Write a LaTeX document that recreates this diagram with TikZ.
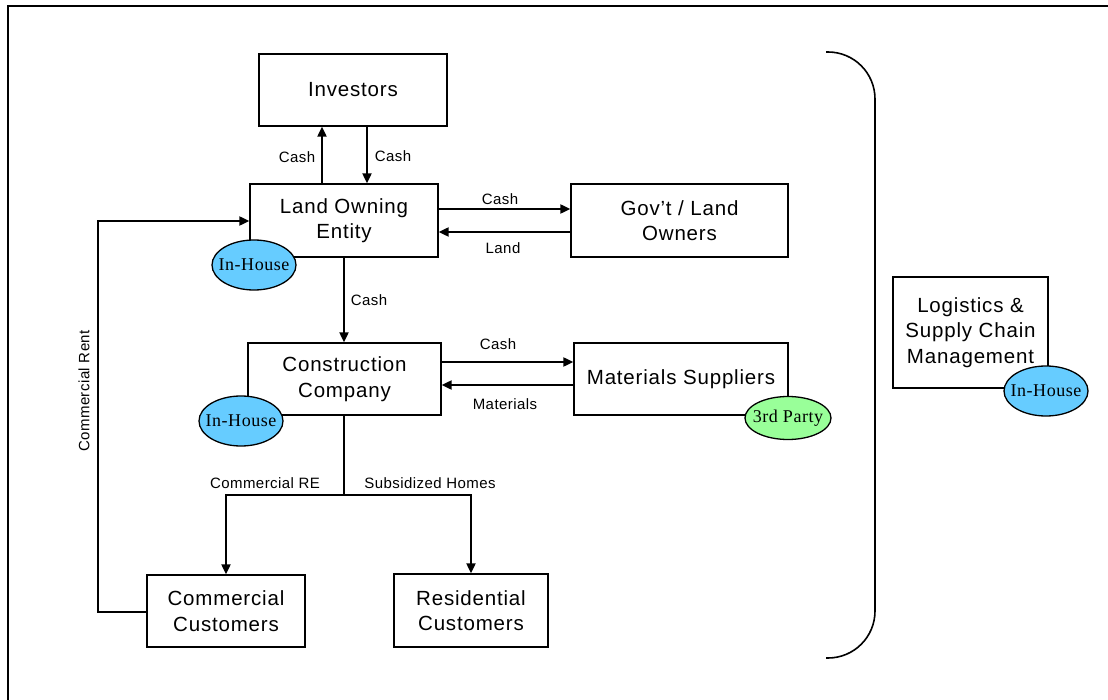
\documentclass[tikz,border=0pt]{standalone}
\usepackage{fontspec}
\setmainfont{Liberation Sans}
\newfontfamily\boxfont[LetterSpace=4]{Liberation Sans}
\newfontfamily\lblfont[LetterSpace=3]{Liberation Sans}
\newfontfamily\tagfont[LetterSpace=3]{Liberation Serif}
\usetikzlibrary{arrows.meta,shapes.geometric}
\newcommand{\tagtext}[1]{\makebox[0pt]{#1}}
\begin{document}
\begin{tikzpicture}[x=1pt,y=-1pt,
  box/.style={draw,line width=1.3pt,align=center,inner sep=0pt,
    font=\boxfont\fontsize{20.5}{25.5}\selectfont},
  flow/.style={line width=2pt,-{Triangle[length=10pt,width=9pt]}},
  plain/.style={line width=2pt},
  lbl/.style={font=\lblfont\fontsize{15}{18}\selectfont,inner sep=0pt},
  tag/.style={draw,ellipse,line width=1.3pt,inner sep=0pt,
    font=\tagfont\fontsize{18}{21}\selectfont},
  inhouse/.style={tag,fill={rgb,255:red,102;green,204;blue,255}},
  third/.style={tag,fill={rgb,255:red,153;green,255;blue,153}}]
\useasboundingbox (0,0) rectangle (1108,700);
% outer frame, running past the page edge on the right and bottom
\begin{scope}
  \clip (0,0) rectangle (1108,700);
  \draw[line width=2pt] (8,6) rectangle (1130,720);
\end{scope}

% boxes
\node[box,minimum width=188pt,minimum height=72pt] (inv) at (353,90) {Investors};
\node[box,minimum width=188pt,minimum height=73pt] (loe) at (344,220.5) {Land Owning\\Entity};
\node[box,minimum width=217pt,minimum height=73pt] (gov) at (679.5,220.5) {Gov’t / Land\\Owners};
\node[box,minimum width=193pt,minimum height=72pt] (cc) at (344.5,379) {Construction\\Company};
\node[box,minimum width=214pt,minimum height=72pt] (mat) at (681,379) {Materials Suppliers};
\node[box,minimum width=158pt,minimum height=72pt] (ccust) at (226,611) {Commercial\\Customers};
\node[box,minimum width=154pt,minimum height=73pt] (rcust) at (471,610.5) {Residential\\Customers};
\node[box,minimum width=155pt,minimum height=111pt] (log) at (970.5,332.5) {Logistics \&\\Supply Chain\\Management};

% ownership tags
\node[inhouse,minimum width=84pt,minimum height=50pt] (t1) at (254,265) {\tagtext{In-House}};
\node[inhouse,minimum width=84pt,minimum height=50pt] (t2) at (241,421) {\tagtext{In-House}};
\node[third,minimum width=86pt,minimum height=43pt] (t3) at (788,418) {\tagtext{3rd Party}};
\node[inhouse,minimum width=84pt,minimum height=50pt] (t4) at (1046,391) {\tagtext{In-House}};

% helper coordinates for connector positions
\coordinate (xa) at (322,0);
\coordinate (xb) at (367,0);
\coordinate (y1) at (0,209);
\coordinate (y2) at (0,232);
\coordinate (y3) at (0,362);
\coordinate (y4) at (0,385);
\coordinate (sp) at (344,495);
\coordinate (spl) at (226,495);
\coordinate (spr) at (471,495);
\coordinate (rb) at (98,612);
\coordinate (rt) at (98,221);

% investors <-> land owning entity
\draw[flow] (loe.north -| xa) -- (inv.south -| xa);
\draw[flow] (inv.south -| xb) -- (loe.north -| xb);
\node[lbl] (c1) at (297,157) {Cash};
\node[lbl] (c2) at (393,156) {Cash};

% land owning entity <-> government
\draw[flow] (loe.east |- y1) -- (gov.west |- y1);
\draw[flow] (gov.west |- y2) -- (loe.east |- y2);
\node[lbl] (c3) at (500,199) {Cash};
\node[lbl] (l1) at (503,248) {Land};

% land owning entity -> construction
\draw[flow] (loe.south) -- (cc.north -| loe.south);
\node[lbl] (c4) at (369,300) {Cash};

% construction <-> suppliers
\draw[flow] (cc.east |- y3) -- (mat.west |- y3);
\draw[flow] (mat.west |- y4) -- (cc.east |- y4);
\node[lbl] (c5) at (498,344) {Cash};
\node[lbl] (m1) at (505,404) {Materials};

% construction -> customers
\draw[plain] (cc.south -| sp) -- (sp);
\draw[flow] (sp) -- (spl) -- (ccust.north);
\draw[flow] (sp) -- (spr) -- (rcust.north);
\node[lbl] (r1) at (265,483) {Commercial RE};
\node[lbl] (r2) at (430,483) {Subsidized Homes};

% commercial rent back to land owning entity
\draw[flow] (ccust.west |- rb) -- (rb) -- (rt) -- (loe.west |- rt);
\node[lbl,rotate=90] (cr) at (84,391) {Commercial Rent};

% bracket
\draw[line width=1.6pt,rounded corners=47pt] (826,52) -- (875,52) -- (875,658) -- (826,658);
\end{tikzpicture}
\end{document}
